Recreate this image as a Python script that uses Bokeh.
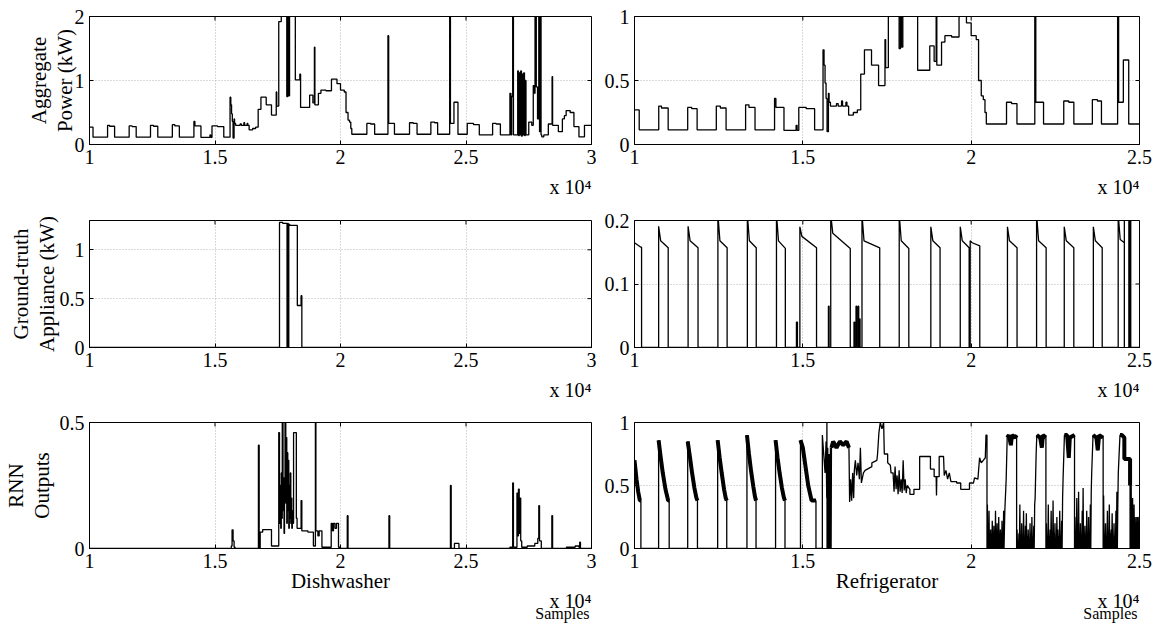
import numpy as np
from bokeh.plotting import figure
from bokeh.layouts import row, column
from bokeh.models import Range1d, FixedTicker, Title
from bokeh.embed import file_html
from bokeh.resources import INLINE

FONT = "Liberation Serif"

# ---------------- tick labels ----------------
left_xticks = [1, 1.5, 2, 2.5, 3]
left_xtick_labels = ["1", "1.5", "2", "2.5", "3"]
right_xticks = [1, 1.5, 2, 2.5]
right_xtick_labels = ["1", "1.5", "2", "2.5"]

agg_dw_yticks = [0, 1, 2]
agg_dw_ytick_labels = ["0", "1", "2"]
gt_dw_yticks = [0, 0.5, 1]
gt_dw_ytick_labels = ["0", "0.5", "1"]
rnn_dw_yticks = [0, 0.5]
rnn_dw_ytick_labels = ["0", "0.5"]
agg_fr_yticks = [0, 0.5, 1]
agg_fr_ytick_labels = ["0", "0.5", "1"]
gt_fr_yticks = [0, 0.1, 0.2]
gt_fr_ytick_labels = ["0", "0.1", "0.2"]
rnn_fr_yticks = [0, 0.5, 1]
rnn_fr_ytick_labels = ["0", "0.5", "1"]

# ---------------- aggregate power (kW), samples x 1e4, step "after" ----------------
agg_x = [1.000, 1.014, 1.072, 1.080, 1.100, 1.158, 1.170, 1.186, 1.243, 1.255, 1.272,
         1.330, 1.340, 1.358, 1.416, 1.420, 1.444, 1.480, 1.483, 1.488, 1.510, 1.535,
         1.560, 1.563, 1.566, 1.569, 1.572, 1.576, 1.578, 1.582, 1.600, 1.605, 1.615,
         1.618, 1.628, 1.631, 1.636, 1.650, 1.662, 1.672, 1.683, 1.704, 1.725, 1.744,
         1.746, 1.754, 1.764, 1.786, 1.790, 1.793, 1.797, 1.820, 1.838, 1.841, 1.877,
         1.890, 1.896, 1.898, 1.912, 1.922, 1.942, 1.964, 1.986, 2.000, 2.015, 2.022,
         2.030, 2.036, 2.041, 2.045, 2.105, 2.120, 2.136, 2.189, 2.192, 2.215, 2.275,
         2.290, 2.305, 2.360, 2.375, 2.387, 2.435, 2.438, 2.452, 2.468, 2.505, 2.530,
         2.553, 2.606, 2.620, 2.637, 2.675, 2.679, 2.682, 2.686, 2.689, 2.706, 2.709,
         2.712, 2.715, 2.718, 2.721, 2.724, 2.727, 2.730, 2.733, 2.736, 2.739, 2.750,
         2.762, 2.768, 2.773, 2.775, 2.780, 2.785, 2.790, 2.793, 2.796, 2.799, 2.802,
         2.810, 2.828, 2.843, 2.845, 2.868, 2.884, 2.892, 2.899, 2.915, 2.930, 2.950,
         2.972, 3.000]
agg_y = [0.27, 0.115, 0.30, 0.285, 0.115, 0.29, 0.28, 0.115, 0.30, 0.285, 0.115,
         0.31, 0.29, 0.115, 0.36, 0.29, 0.11, 0.15, 0.11, 0.29, 0.28, 0.115,
         0.74, 0.62, 0.48, 0.36, 0.10, 0.40, 0.33, 0.30, 0.32, 0.30, 0.34,
         0.30, 0.33, 0.30, 0.23, 0.25, 0.27, 0.55, 0.74, 0.62, 0.46, 0.82,
         0.60, 1.92, 2.30, 0.75, 2.30, 0.76, 2.30, 1.01, 1.10, 0.58, 0.77,
         0.65, 1.52, 0.62, 0.80, 0.85, 0.84, 1.02, 0.95, 0.85, 0.82, 0.50,
         0.38, 0.35, 0.25, 0.16, 0.33, 0.32, 0.16, 1.70, 0.33, 0.16, 0.34,
         0.33, 0.16, 0.35, 0.34, 0.16, 2.30, 0.33, 0.66, 0.16, 0.33, 0.31,
         0.15, 0.33, 0.32, 0.15, 0.80, 0.15, 0.75, 2.30, 0.15, 1.15, 0.14,
         1.12, 0.15, 1.15, 0.13, 1.10, 0.15, 1.12, 0.14, 1.00, 0.15, 0.35,
         0.30, 0.92, 0.80, 2.30, 0.90, 0.40, 2.30, 0.20, 2.30, 0.15, 0.12,
         0.15, 0.32, 1.06, 0.30, 0.20, 0.40, 0.45, 0.53, 0.50, 0.28, 0.12,
         0.30, 0.30]

# ---------------- ground-truth dishwasher (kW), step "after" ----------------
gt_dw_x = [1.000, 1.757, 1.770, 1.787, 1.789, 1.792, 1.794, 1.798, 1.828, 1.843, 1.846, 3.000]
gt_dw_y = [0.00, 1.28, 1.27, 0.00, 1.27, 0.00, 1.26, 1.25, 0.43, 0.53, 0.00, 0.00]

# ---------------- ground-truth refrigerator (kW) ----------------
fr_start_x = [1.000, 1.019, 1.021]
fr_start_y = [0.165, 0.158, 0.158]
fr_on = [1.0717, 1.1592, 1.2477, 1.3352, 1.4217, 1.4912, 1.5829, 1.6757, 1.7863,
         1.8802, 1.9676, 1.9971, 2.1078, 2.1943, 2.2765, 2.3629, 2.4367]
fr_off = [1.1001, 1.1887, 1.2751, 1.3616, 1.4480, 1.5407, 1.6409, 1.7284, 1.8148,
          1.9076, 1.9940, 2.0256, 2.1363, 2.2227, 2.3049, 2.3892, 2.4550]
fr_peak = [0.191, 0.191, 0.21, 0.21, 0.21, 0.19, 0.21, 0.21, 0.21,
           0.19, 0.19, 0.168, 0.19, 0.21, 0.19, 0.19, 0.21]
fr_hi = [0.168, 0.168, 0.168, 0.168, 0.168, 0.175, 0.180, 0.168, 0.168,
         0.168, 0.168, 0.165, 0.168, 0.168, 0.168, 0.168, 0.170]
fr_lo = [0.157, 0.157, 0.157, 0.157, 0.156, 0.157, 0.156, 0.157, 0.156,
         0.157, 0.157, 0.160, 0.157, 0.157, 0.157, 0.157, 0.165]
fr_spike_start = [1.481, 1.576, 1.652, 1.658, 1.664, 1.668, 2.455, 2.472]
fr_spike_end = [1.484, 1.578, 1.654, 1.660, 1.666, 1.670, 2.4684, 2.474]
fr_spike_h = [0.04, 0.065, 0.04, 0.065, 0.065, 0.045, 0.21, 0.21]

# ---------------- RNN output, dishwasher, step "after" ----------------
rnn_dw_x = [1.000, 1.565, 1.568, 1.572, 1.576, 1.580, 1.673, 1.676, 1.680, 1.690,
            1.725, 1.754, 1.757, 1.760, 1.762, 1.764, 1.766, 1.768, 1.771, 1.773,
            1.775, 1.777, 1.779, 1.782, 1.784, 1.786, 1.788, 1.790, 1.792, 1.794,
            1.796, 1.798, 1.800, 1.802, 1.804, 1.806, 1.808, 1.810, 1.813, 1.824,
            1.827, 1.843, 1.846, 1.870, 1.892, 1.900, 1.902, 1.910, 1.915, 1.926,
            1.963, 1.968, 1.972, 1.978, 1.984, 1.992, 2.000, 2.027, 2.030, 2.193,
            2.196, 2.438, 2.441, 2.454, 2.472, 2.675, 2.686, 2.689, 2.703, 2.706,
            2.709, 2.712, 2.715, 2.718, 2.722, 2.744, 2.774, 2.786, 2.790, 2.793,
            2.800, 2.842, 2.845, 2.900, 2.935, 2.950, 2.953, 2.956, 3.000]
rnn_dw_y = [0.000, 0.010, 0.074, 0.030, 0.005, 0.000, 0.410, 0.000, 0.065, 0.075,
            0.010, 0.460, 0.100, 0.250, 0.080, 0.300, 0.120, 0.550, 0.150, 0.280,
            0.060, 0.220, 0.600, 0.180, 0.440, 0.100, 0.380, 0.150, 0.350, 0.080,
            0.250, 0.120, 0.300, 0.100, 0.200, 0.080, 0.150, 0.100, 0.460, 0.120,
            0.080, 0.190, 0.070, 0.065, 0.010, 0.600, 0.070, 0.050, 0.070, 0.005,
            0.100, 0.070, 0.100, 0.080, 0.100, 0.005, 0.000, 0.130, 0.000, 0.130,
            0.000, 0.250, 0.000, 0.020, 0.000, 0.005, 0.260, 0.005, 0.220, 0.050,
            0.236, 0.060, 0.200, 0.030, 0.005, 0.010, 0.020, 0.040, 0.170, 0.030,
            0.000, 0.130, 0.000, 0.005, 0.010, 0.005, 0.025, 0.000, 0.000]

# ---------------- RNN output, refrigerator ----------------
rnn_fr_x = [1.000, 1.006, 1.011, 1.016, 1.019, 1.019,
            1.0716, 1.0716, 1.078, 1.084, 1.092, 1.100, 1.103, 1.103,
            1.158, 1.158, 1.165, 1.171, 1.178, 1.184, 1.187, 1.187,
            1.247, 1.247, 1.253, 1.259, 1.266, 1.271, 1.274, 1.274,
            1.334, 1.334, 1.340, 1.346, 1.353, 1.358, 1.361, 1.361,
            1.419, 1.419, 1.425, 1.431, 1.438, 1.444, 1.447, 1.447,
            1.493, 1.493, 1.500, 1.508, 1.516, 1.526, 1.539, 1.539,
            1.558, 1.558, 1.562, 1.566, 1.569, 1.571, 1.5715, 1.572, 1.574, 1.576,
            1.578, 1.580, 1.582, 1.584, 1.585, 1.590, 1.600, 1.610, 1.620, 1.630,
            1.637, 1.639, 1.642, 1.645, 1.648, 1.651, 1.653, 1.656, 1.660, 1.664,
            1.668, 1.671, 1.674, 1.680, 1.685, 1.705, 1.705, 1.720, 1.722, 1.726,
            1.730, 1.735, 1.740, 1.742, 1.752, 1.752, 1.760, 1.762, 1.768, 1.771,
            1.774, 1.777, 1.780, 1.783, 1.786, 1.789, 1.792, 1.795, 1.798, 1.801,
            1.804, 1.807, 1.810, 1.818, 1.818, 1.830, 1.830, 1.847, 1.847, 1.879,
            1.879, 1.890, 1.890, 1.896, 1.897, 1.898, 1.905, 1.905, 1.918, 1.920,
            1.925, 1.930, 1.935, 1.940, 1.957, 1.957, 1.969, 1.969, 1.995, 1.995,
            2.007, 2.010, 2.020, 2.025, 2.030, 2.036, 2.042, 2.044, 2.047, 2.047]
rnn_fr_y = [0.70, 0.55, 0.45, 0.38, 0.38, 0.00,
            0.00, 0.86, 0.72, 0.60, 0.47, 0.38, 0.38, 0.00,
            0.00, 0.85, 0.72, 0.60, 0.48, 0.40, 0.38, 0.00,
            0.00, 0.86, 0.72, 0.60, 0.47, 0.40, 0.38, 0.00,
            0.00, 0.90, 0.75, 0.62, 0.49, 0.41, 0.38, 0.00,
            0.00, 0.86, 0.72, 0.60, 0.48, 0.40, 0.38, 0.00,
            0.00, 0.86, 0.80, 0.65, 0.50, 0.38, 0.38, 0.00,
            0.00, 0.90, 0.75, 0.60, 0.85, 0.40, 1.00, 0.00, 0.80, 0.00,
            0.75, 0.00, 0.80, 0.00, 0.80, 0.85, 0.80, 0.85, 0.82, 0.85,
            0.80, 0.37, 0.55, 0.38, 0.60, 0.40, 0.62, 0.70, 0.58, 0.68,
            0.55, 0.80, 0.52, 0.60, 0.62, 0.65, 0.68, 0.70, 0.75, 0.92,
            1.00, 0.95, 1.00, 0.75, 0.75, 0.68, 0.66, 0.60, 0.60, 0.45,
            0.65, 0.47, 0.58, 0.43, 0.62, 0.45, 0.55, 0.44, 0.70, 0.46,
            0.55, 0.44, 0.50, 0.47, 0.43, 0.43, 0.47, 0.47, 0.73, 0.73,
            0.63, 0.63, 0.57, 0.57, 0.42, 0.57, 0.57, 0.73, 0.73, 0.58,
            0.62, 0.55, 0.60, 0.53, 0.53, 0.52, 0.52, 0.47, 0.47, 0.52,
            0.52, 0.56, 0.55, 0.72, 0.68, 0.70, 0.72, 0.90, 0.90, 0.00]
# off-periods after 2.05: spans and spike heights
rnn_noise_spans = [(2.047, 2.100), (2.135, 2.190), (2.222, 2.273),
                   (2.307, 2.358), (2.392, 2.437), (2.472, 2.500)]
rnn_noise_peaks = [
    [0.35, 0.05, 0.30, 0.10, 0.15, 0.08, 0.22, 0.05, 0.18, 0.12, 0.30,
     0.08, 0.20, 0.10, 0.25, 0.06, 0.15, 0.12, 0.22, 0.10, 0.30, 0.15],
    [0.15, 0.05, 0.12, 0.35, 0.08, 0.20, 0.10, 0.30, 0.05, 0.18, 0.28,
     0.10, 0.15, 0.08, 0.20, 0.12, 0.25, 0.06, 0.18, 0.35],
    [0.20, 0.06, 0.35, 0.10, 0.15, 0.30, 0.08, 0.38, 0.12, 0.20, 0.05,
     0.25, 0.15, 0.10, 0.30, 0.08, 0.22, 0.40],
    [0.25, 0.08, 0.40, 0.12, 0.45, 0.10, 0.20, 0.06, 0.30, 0.48, 0.10,
     0.18, 0.05, 0.30, 0.12, 0.25, 0.08, 0.35, 0.45],
    [0.42, 0.08, 0.20, 0.10, 0.30, 0.05, 0.35, 0.12, 0.15, 0.28, 0.08,
     0.20, 0.10, 0.30, 0.45, 0.35],
    [0.35, 0.55, 0.20, 0.40, 0.15, 0.35, 0.25, 0.10, 0.25, 0.05, 0.25,
     0.12, 0.25],
]
# on-periods (plateaus near 0.9) following each off-period
rnn_plateau_x = [
    [2.100, 2.104, 2.107, 2.112, 2.118, 2.121, 2.130, 2.135, 2.135],
    [2.190, 2.193, 2.195, 2.205, 2.210, 2.213, 2.222, 2.222],
    [2.273, 2.277, 2.285, 2.290, 2.293, 2.307, 2.307],
    [2.358, 2.362, 2.372, 2.376, 2.380, 2.392, 2.392],
    [2.437, 2.442, 2.448, 2.455, 2.455, 2.472, 2.472],
    [2.500],
]
rnn_plateau_y = [
    [0.30, 0.55, 0.88, 0.90, 0.82, 0.90, 0.88, 0.90, 0.00],
    [0.40, 0.75, 0.90, 0.88, 0.80, 0.90, 0.88, 0.00],
    [0.55, 0.90, 0.90, 0.72, 0.88, 0.90, 0.00],
    [0.60, 0.90, 0.88, 0.78, 0.90, 0.88, 0.00],
    [0.60, 0.90, 0.90, 0.88, 0.71, 0.71, 0.50],
    [0.25],
]
# stretches where the RNN output is a thick, jittering band
rnn_band_spans = [(1.000, 1.0195), (1.0716, 1.1035), (1.158, 1.1875), (1.247, 1.2745),
                  (1.334, 1.3615), (1.419, 1.4475), (1.493, 1.5395), (1.585, 1.637),
                  (2.107, 2.135), (2.195, 2.222), (2.277, 2.307), (2.362, 2.392),
                  (2.442, 2.4725)]

# ---------------- build polylines ----------------
def build_gt_fridge():
    xs, ys = list(fr_start_x), list(fr_start_y)
    xs.append(fr_start_x[-1]); ys.append(0.0)
    events = []
    for on, off, pk, hi, lo in zip(fr_on, fr_off, fr_peak, fr_hi, fr_lo):
        events.append((on, [on, on, on + 0.006, off, off], [0.0, pk, hi, lo, 0.0]))
    for s, e, h in zip(fr_spike_start, fr_spike_end, fr_spike_h):
        events.append((s, [s, s, e, e], [0.0, h, h, 0.0]))
    events.sort(key=lambda t: t[0])
    for _, ex, ey in events:
        xs += ex; ys += ey
    xs.append(2.5); ys.append(0.0)
    return xs, ys


def build_rnn_fridge():
    xs, ys = list(rnn_fr_x), list(rnn_fr_y)
    for (a, b), peaks, px, py in zip(rnn_noise_spans, rnn_noise_peaks, rnn_plateau_x, rnn_plateau_y):
        n = len(peaks)
        step = (b - a) / n
        for i, pk in enumerate(peaks):
            xs.append(a + i * step); ys.append(0.0)
            xs.append(a + (i + 0.5) * step); ys.append(pk)
        xs += px; ys += py
    return xs, ys


gtf_x, gtf_y = build_gt_fridge()
rfr_x, rfr_y = build_rnn_fridge()

band_xs, band_ys = [], []
arx, ary = np.array(rfr_x), np.array(rfr_y)
for a, b in rnn_band_spans:
    m = (arx >= a) & (arx <= b) & (ary > 0)
    band_xs.append(list(arx[m])); band_ys.append(list(ary[m]))

# ---------------- figures ----------------
LW, RW = 601, 553
H = [207, 202, 226]
BT = [16, 13, 13]
BB = [63, 62, 87]
FRAME_H = [128, 127, 126]
FRAME_W = [502, 505]
TICK = 4


def style_axis(ax, ticks, labels):
    ax.ticker = FixedTicker(ticks=ticks)
    ax.major_label_overrides = {t: l for t, l in zip(ticks, labels)}
    ax.major_tick_in = TICK
    ax.major_tick_out = 0
    ax.minor_tick_in = 0
    ax.minor_tick_out = 0
    ax.major_tick_line_color = "black"
    ax.axis_line_color = "black"
    ax.major_label_text_font = FONT
    ax.major_label_text_font_size = "20px"
    ax.major_label_text_color = "black"
    ax.major_label_standoff = 5


def note(text, size, standoff, offset=0):
    return Title(text=text, align="right", offset=offset, standoff=standoff,
                 text_font=FONT, text_font_size=size, text_font_style="normal",
                 text_color="black")


def make_fig(col, r, xr, yr, xt, xtl, yt, ytl, ylabel=None, ylabel_standoff=6, xlabel=None):
    if col == 0:
        w, bl, br = LW, 89, 10
    else:
        w, bl, br = RW, 33, 15
    p = figure(width=w, height=H[r], x_range=Range1d(*xr), y_range=Range1d(*yr),
               output_backend="svg", toolbar_location=None,
               min_border_left=bl, min_border_right=br,
               min_border_top=BT[r], min_border_bottom=BB[r])
    p.background_fill_color = "white"
    p.border_fill_color = "white"
    p.outline_line_color = "black"
    p.outline_line_width = 1
    xax = p.below[0]
    yax = p.left[0]
    style_axis(xax, xt, xtl)
    style_axis(yax, yt, ytl)
    p.xgrid.ticker = FixedTicker(ticks=xt)
    p.ygrid.ticker = FixedTicker(ticks=yt)
    p.grid.grid_line_color = "#b4b4b4"
    p.grid.grid_line_dash = "1 2"
    p.grid.grid_line_width = 1
    # inward ticks on the top and right edges of the box
    dy = TICK * (yr[1] - yr[0]) / FRAME_H[r]
    dx = TICK * (xr[1] - xr[0]) / FRAME_W[col]
    p.segment(x0=xt, y0=[yr[1]] * len(xt), x1=xt, y1=[yr[1] - dy] * len(xt),
              line_color="black", line_width=1)
    p.segment(x0=[xr[1]] * len(yt), y0=yt, x1=[xr[1] - dx] * len(yt), y1=yt,
              line_color="black", line_width=1)
    if ylabel:
        yax.axis_label = ylabel
        yax.axis_label_text_font = FONT
        yax.axis_label_text_font_size = "21px"
        yax.axis_label_text_font_style = "normal"
        yax.axis_label_text_color = "black"
        yax.axis_label_standoff = ylabel_standoff
        yax.axis_label_text_line_height = 1.05
    if xlabel:
        xax.axis_label = xlabel
        xax.axis_label_text_font = FONT
        xax.axis_label_text_font_size = "21px"
        xax.axis_label_text_font_style = "normal"
        xax.axis_label_text_color = "black"
        xax.axis_label_standoff = -2
    # "x 10^4" exponent note under the right end of the x axis
    if r < 2:
        p.add_layout(note("x 10\u2074", "20px", 15), "below")
    else:
        p.add_layout(note("x 10\u2074", "20px", -15), "below")
        p.add_layout(note("Samples", "16px", -3, offset=2), "below")
    return p


LX, RX = (1, 3), (1, 2.5)
LINE = dict(line_color="black", line_width=1.3)

p1 = make_fig(0, 0, LX, (0, 2), left_xticks, left_xtick_labels, agg_dw_yticks, agg_dw_ytick_labels,
              ylabel="Aggregate\nPower (kW)", ylabel_standoff=-5)
p1.step(agg_x, agg_y, mode="after", **LINE)

p2 = make_fig(0, 1, LX, (0, 1.3), left_xticks, left_xtick_labels, gt_dw_yticks, gt_dw_ytick_labels,
              ylabel="Ground-truth\nAppliance (kW)", ylabel_standoff=-2)
p2.step(gt_dw_x, gt_dw_y, mode="after", **LINE)

p3 = make_fig(0, 2, LX, (0, 0.5), left_xticks, left_xtick_labels, rnn_dw_yticks, rnn_dw_ytick_labels,
              ylabel="RNN\nOutputs", ylabel_standoff=3, xlabel="Dishwasher")
p3.step(rnn_dw_x, rnn_dw_y, mode="after", **LINE)

p4 = make_fig(1, 0, RX, (0, 1), right_xticks, right_xtick_labels, agg_fr_yticks, agg_fr_ytick_labels)
p4.step(agg_x, agg_y, mode="after", **LINE)

p5 = make_fig(1, 1, RX, (0, 0.2), right_xticks, right_xtick_labels, gt_fr_yticks, gt_fr_ytick_labels)
p5.line(gtf_x, gtf_y, **LINE)

p6 = make_fig(1, 2, RX, (0, 1), right_xticks, right_xtick_labels, rnn_fr_yticks, rnn_fr_ytick_labels,
              xlabel="Refrigerator")
p6.line(rfr_x, rfr_y, **LINE)
p6.multi_line(band_xs, band_ys, line_color="black", line_width=4)

layout = row(column(p1, p2, p3), column(p4, p5, p6))
open("out.html", "w").write(file_html(layout, INLINE))
